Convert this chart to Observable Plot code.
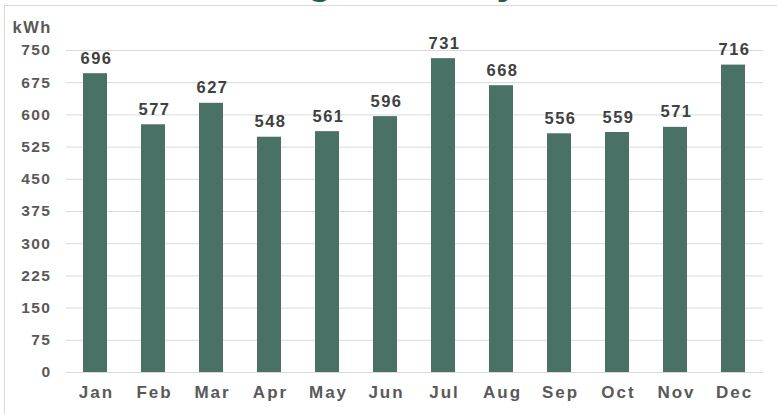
<!DOCTYPE html>
<html>
<head>
<meta charset="utf-8">
<script src="https://cdn.jsdelivr.net/npm/d3@7"></script>
<script src="https://cdn.jsdelivr.net/npm/@observablehq/plot@0.6"></script>
<style>
  html, body { margin: 0; padding: 0; background: #fff; overflow: hidden; }
  #wrap { position: relative; width: 777px; height: 414px; overflow: hidden; font-family: "Liberation Sans", Arial, sans-serif; }
  #frame { position: absolute; left: 4px; top: 5px; width: 800px; height: 450px; border: 1px solid #d9d9d9; box-sizing: border-box; }
  #title { position: absolute; left: 12px; width: 777px; top: -44px; text-align: center; font-size: 40px; font-weight: bold; color: #1d5e4e; line-height: 48px; white-space: nowrap; }
  #chart { position: absolute; left: 0; top: 0; }
  #chart svg g[aria-label="x-axis tick label"] text { letter-spacing: 2px; }
  #chart svg g[aria-label="y-axis tick label"] text { letter-spacing: 1.5px; }
  #chart svg g.vlabels text { letter-spacing: 1.5px; }
  #chart svg g.unit text { letter-spacing: 1.5px; }
</style>
</head>
<body>
<div id="wrap">
  <div id="frame"></div>
  <div id="title">Average Monthly Use</div>
  <div id="chart"></div>
</div>
<script>
const months = ["Jan","Feb","Mar","Apr","May","Jun","Jul","Aug","Sep","Oct","Nov","Dec"];
const usage = [696, 577, 627, 548, 561, 596, 731, 668, 556, 559, 571, 716];
const yTicks = [0, 75, 150, 225, 300, 375, 450, 525, 600, 675, 750];
const unitLabel = ["kWh"];

const data = months.map((m, i) => ({month: m, kwh: usage[i]}));

const chart = Plot.plot({
  width: 777,
  height: 414,
  marginTop: 50,
  marginBottom: 42,
  marginLeft: 66,
  marginRight: 14,
  style: {background: "transparent", fontFamily: "'Liberation Sans', Arial, sans-serif", overflow: "visible"},
  x: {domain: months, paddingInner: 0.58, paddingOuter: 0.29, label: null},
  y: {domain: [0, 750], label: null},
  marks: [
    Plot.gridY(yTicks, {stroke: "#d9d9d9", strokeOpacity: 1, strokeWidth: 1}),
    Plot.axisY(yTicks, {tickSize: 0, tickPadding: 15, fontSize: 15.5, fontWeight: "bold", fill: "#595959", label: null}),
    Plot.axisX({tickSize: 0, tickPadding: 13, fontSize: 17, fontWeight: "bold", fill: "#595959", label: null, dx: 1}),
    Plot.barY(data, {x: "month", y: "kwh", fill: "#4a7165"}),
    Plot.text(data, {x: "month", y: "kwh", text: d => String(d.kwh), lineAnchor: "bottom", dy: -10, dx: 1, fontSize: 16.5, fontWeight: "bold", fill: "#404040", className: "vlabels"}),
    Plot.text(unitLabel, {text: d => d, frameAnchor: "top-left", textAnchor: "start", dx: -54, dy: -18, lineAnchor: "bottom", fontSize: 16.5, fontWeight: "bold", fill: "#595959", className: "unit"})
  ]
});
document.getElementById("chart").appendChild(chart);
</script>
</body>
</html>
